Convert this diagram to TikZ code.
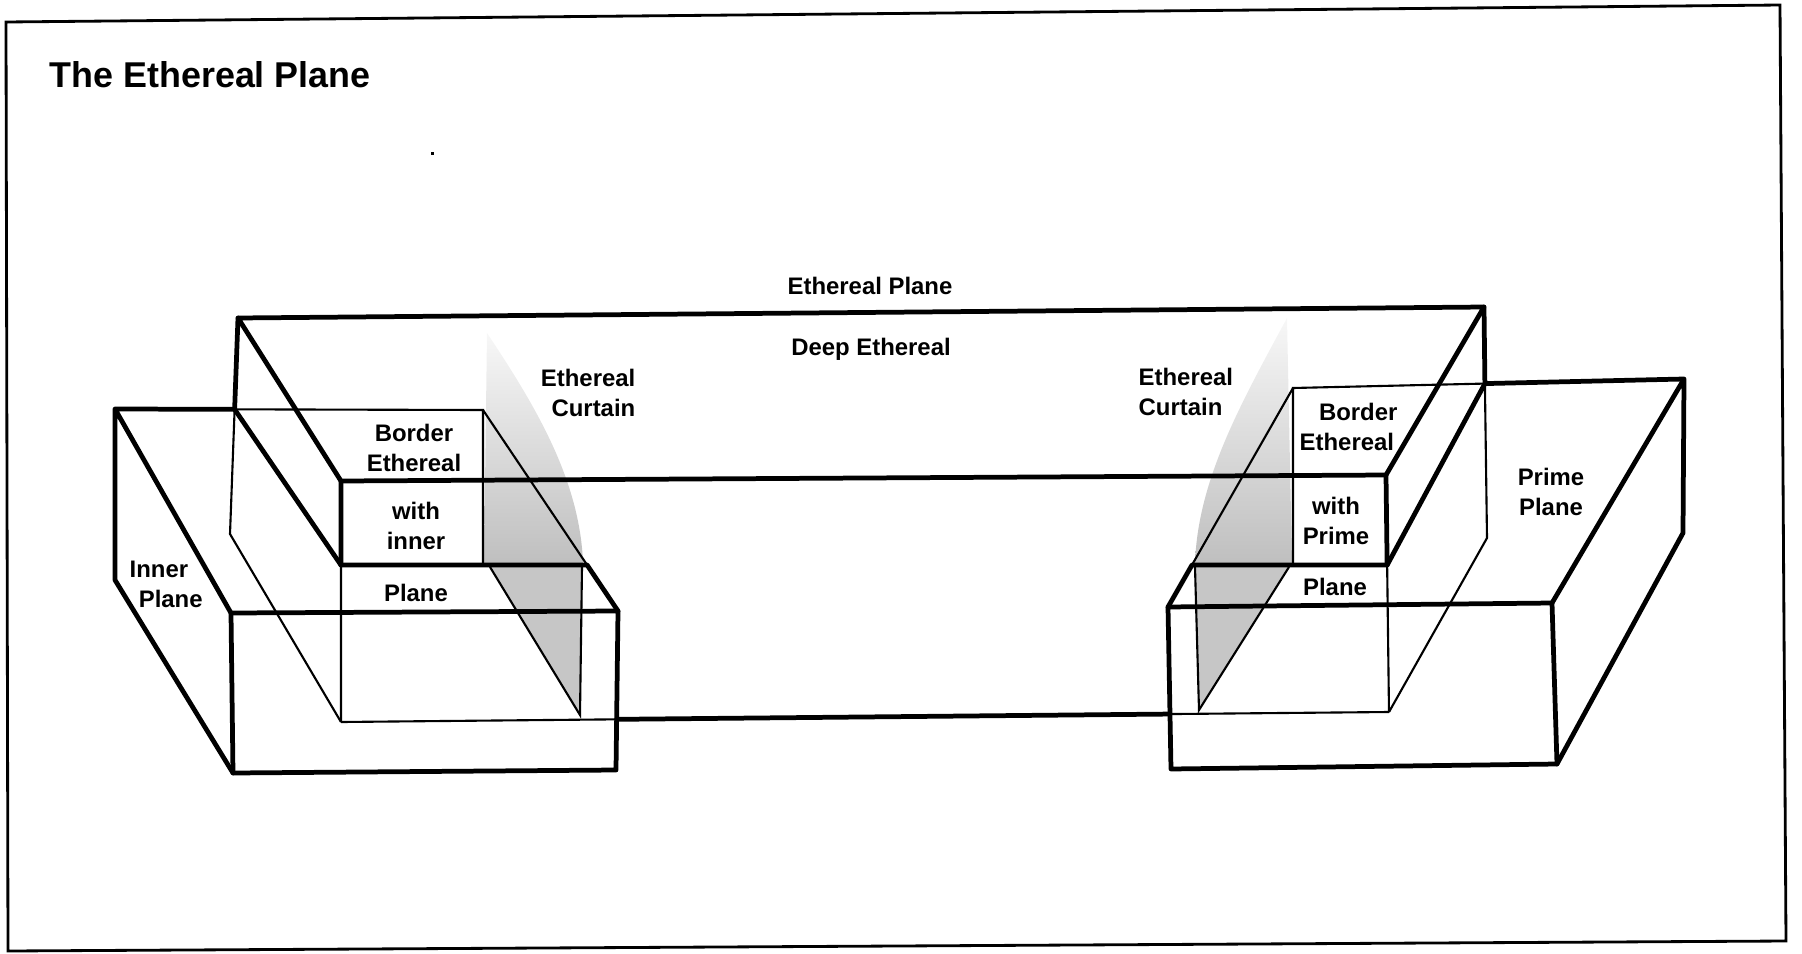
\documentclass[tikz,border=0pt]{standalone}
\usepackage{fontspec}
\setmainfont{Liberation Sans}
\usepackage{tikz}
\usetikzlibrary{calc}

\begin{document}
\begin{tikzpicture}[
    x=0.01cm, y=-0.01cm,
    heavy/.style={line width=1.35pt, line cap=round, line join=round},
    light/.style={line width=0.6pt},
    frameline/.style={line width=0.8pt},
    lbl/.style={font=\bfseries\fontsize{6.8}{8.5}\selectfont, align=center, inner sep=0pt},
    curtain/.style={top color=gray!6, bottom color=gray!50},
    curtainlow/.style={fill=gray!45},
]
    \useasboundingbox (0,0) rectangle (1802,954);

    % Frame and title
    \coordinate (tl) at (6,22);
    \coordinate (tr) at (1780,5);
    \coordinate (br) at (1786,941);
    \coordinate (bl) at (8,951);
    \draw[frameline] (tl) -- (tr) -- (br) -- (bl) -- cycle;
    \node[anchor=base west, inner sep=0pt, font=\bfseries\fontsize{10.2}{12}\selectfont] (ttl) at (49,87) {The Ethereal Plane};
    \fill (431,152) rectangle (434,155);

    % Deep Ethereal box
    \coordinate (dA) at (238,318);
    \coordinate (dB) at (1484,307);
    \coordinate (dC) at (341,481);
    \coordinate (dD) at (1386,475);
    \coordinate (dAb) at (230,534);
    \coordinate (dBb) at (1487,538);
    \coordinate (dCb) at (341,722);
    \coordinate (dDb) at (1389,712);

    % Inner Plane box
    \coordinate (iE) at (115,409);
    \coordinate (iF) at (483,410);
    \coordinate (iG) at (231,613);
    \coordinate (iH) at (618,611);
    \coordinate (iEb) at (115,580);
    \coordinate (iGb) at (233,773);
    \coordinate (iHb) at (616,770);

    % Prime Plane box
    \coordinate (pP) at (1293,388);
    \coordinate (pQ) at (1684,379);
    \coordinate (pR) at (1552,603);
    \coordinate (pS) at (1168,607);
    \coordinate (pQb) at (1683,533);
    \coordinate (pRb) at (1557,764);
    \coordinate (pSb) at (1171,769);

    % Steps and crossings
    \coordinate (lstepC) at ($(dC)!0.349!(dCb)$);
    \coordinate (lstepH) at ($(iF)!0.771!(iH)$);
    \coordinate (lstepF) at (483,565);
    \coordinate (rstepD) at ($(dD)!0.38!(dDb)$);
    \coordinate (rstepS) at ($(pP)!0.808!(pS)$);
    \coordinate (rstepP) at (1293,565);
    \coordinate (dAx) at (intersection of dA--dAb and iE--iF);
    \coordinate (dBx) at (intersection of dB--dBb and pP--pQ);
    \coordinate (botL) at (intersection of dCb--dDb and iH--iHb);
    \coordinate (botR) at (intersection of dCb--dDb and pS--pSb);

    % Ethereal Curtains
    \shade[curtain] (487,333) -- (484,563) -- (583,563) .. controls (580,480) and (535,405) .. (487,333) -- cycle;
    \fill[curtainlow] (490,567) -- (582,567) -- (580,715) -- cycle;
    \draw[light] (490,567) -- (580,715) -- (582,567);
    \shade[curtain] (1287,318) -- (1292,563) -- (1195,563) .. controls (1198,480) and (1240,405) .. (1287,318) -- cycle;
    \fill[curtainlow] (1195,567) -- (1289,567) -- (1199,710) -- cycle;
    \draw[light] (1195,567) -- (1199,710) -- (1289,567);

    % Deep Ethereal edges
    \draw[heavy] (dA) -- (dB) -- (dD) -- (dC) -- cycle;
    \draw[heavy] (dA) -- (dAx) -- (lstepC);
    \draw[heavy] (dC) -- (lstepC);
    \draw[light] (lstepC) -- (dCb);
    \draw[light] (dAx) -- (dAb) -- (dCb);
    \draw[heavy] (dB) -- (dBx) -- (rstepD);
    \draw[heavy] (dD) -- (rstepD);
    \draw[light] (rstepD) -- (dDb);
    \draw[light] (dBx) -- (dBb) -- (dDb);
    \draw[light] (dCb) -- (botL);
    \draw[heavy] (botL) -- (botR);
    \draw[light] (botR) -- (dDb);

    % Inner Plane edges
    \draw[heavy] (dAx) -- (iE) -- (iG) -- (iH) -- (iHb) -- (iGb) -- (iEb) -- (iE);
    \draw[heavy] (iG) -- (iGb);
    \draw[light] (dAx) -- (iF) -- (lstepF);
    \draw[light] (iF) -- (lstepH);
    \draw[heavy] (lstepC) -- (lstepH) -- (iH);

    % Prime Plane edges
    \draw[heavy] (dBx) -- (pQ) -- (pR) -- (pS) -- (pSb) -- (pRb) -- (pQb) -- (pQ);
    \draw[heavy] (pR) -- (pRb);
    \draw[light] (dBx) -- (pP) -- (rstepP);
    \draw[light] (pP) -- (rstepS);
    \draw[heavy] (rstepD) -- (rstepS) -- (pS);

    % Labels
    \node[lbl] (ethplane) at (870,286) {Ethereal Plane};
    \node[lbl] (deep) at (871,349) {Deep Ethereal};
    \node[lbl, anchor=east, align=right] (lcurt) at (636,393) {Ethereal\\Curtain};
    \node[lbl, anchor=west, align=left] (rcurt) at (1138,392) {Ethereal\\Curtain};
    \node[lbl] (lborder) at (414,448) {Border\\Ethereal};
    \node[lbl] (lwith) at (416,526) {with\\inner};
    \node[lbl] (lplane) at (416,593) {Plane};
    \node[lbl, anchor=west, align=left] (inner) at (129,584) {Inner\\\hspace*{2.6pt}Plane};
    \node[lbl, anchor=west, align=left] (rborder) at (1299,427) {\hspace*{5.5pt}Border\\Ethereal};
    \node[lbl] (rwith) at (1336,521) {with\\Prime};
    \node[lbl] (rplane) at (1335,587) {Plane};
    \node[lbl] (prime) at (1551,492) {Prime\\Plane};
\end{tikzpicture}
\end{document}
